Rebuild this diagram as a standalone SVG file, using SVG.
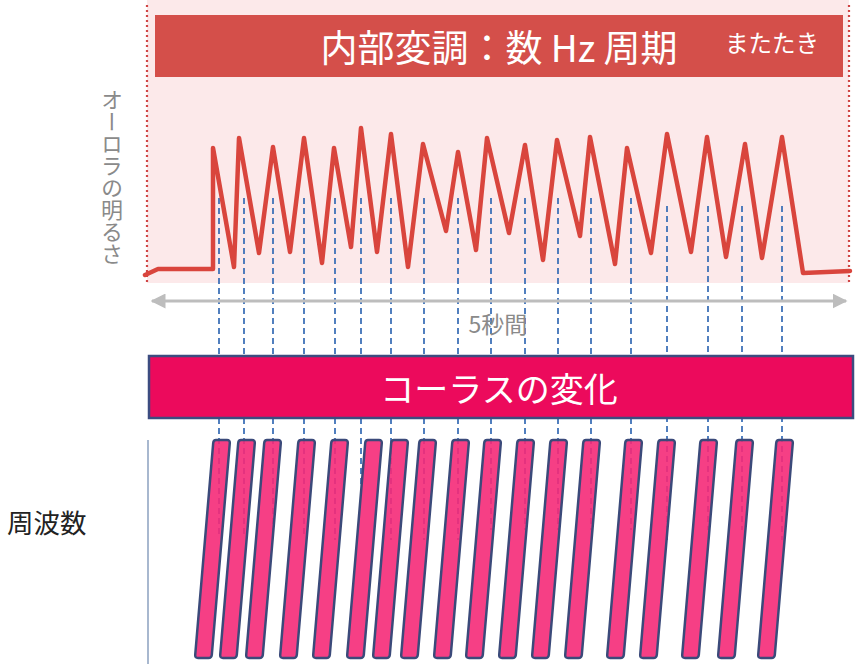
<svg xmlns="http://www.w3.org/2000/svg" xmlns:xlink="http://www.w3.org/1999/xlink" width="859" height="664" viewBox="0 0 859 664">
<style>
  .jp { font-family: "Noto Sans CJK JP", "Noto Sans", sans-serif; }
  .dash { stroke: #3f72b8; stroke-width: 1.8; stroke-dasharray: 6 4; fill: none; }
  .barshape { fill: #f52a78; fill-opacity: 0.9; stroke: #3b4a7a; stroke-width: 2.5; stroke-linejoin: round; }
  .dotted { stroke: #d04545; stroke-width: 2.2; stroke-dasharray: 2 3; fill: none; }
</style>
<defs>
  <path id="bar" d="M3,0 H14 Q17,0 16.8,3 L-1.2,215 Q-1.5,218 -4.5,218 H-15 Q-18,218 -17.8,215 L0.2,3 Q0.5,0 3,0 Z"/>
  <marker id="ah" viewBox="0 0 10 10" refX="9" refY="5" markerWidth="5" markerHeight="5" orient="auto-start-reverse" markerUnits="strokeWidth">
    <path d="M0,0 L10,5 L0,10 Z" fill="#bdbdbd"/>
  </marker>
</defs>
<rect width="859" height="664" fill="#ffffff"/>

<g id="brightness-panel">
  <rect x="147" y="0" width="702" height="283" fill="#fce9ea"/>
  <line class="dotted" x1="147" y1="5" x2="147" y2="283"/>
  <line class="dotted" x1="849" y1="5" x2="849" y2="283"/>
</g>

<g id="banner">
  <rect x="155" y="15" width="688" height="62" fill="#d44f4a"/>
  <text class="jp" x="499" y="62" font-size="37" fill="#ffffff" text-anchor="middle">内部変調：数 Hz 周期</text>
  <text class="jp" x="772" y="52" font-size="23.5" fill="#ffffff" text-anchor="middle">またたき</text>
</g>

<g id="y-label">
  <text class="jp" x="112" y="89" font-size="22" fill="#8a8a8a" style="writing-mode: vertical-rl;">オーロラの明るさ</text>
</g>

<g id="connectors">
  <g id="dashed-lines">
    <line class="dash" x1="219" y1="198" x2="219" y2="535"/>
    <line class="dash" x1="244" y1="198" x2="244" y2="535"/>
    <line class="dash" x1="273" y1="198" x2="273" y2="535"/>
    <line class="dash" x1="304" y1="198" x2="304" y2="535"/>
    <line class="dash" x1="335" y1="198" x2="335" y2="540"/>
    <line class="dash" x1="361" y1="198" x2="361" y2="487"/>
    <line class="dash" x1="391" y1="198" x2="391" y2="540"/>
    <line class="dash" x1="424" y1="198" x2="424" y2="540"/>
    <line class="dash" x1="458" y1="198" x2="458" y2="540"/>
    <line class="dash" x1="491" y1="198" x2="491" y2="530"/>
    <line class="dash" x1="525" y1="198" x2="525" y2="530"/>
    <line class="dash" x1="558" y1="198" x2="558" y2="530"/>
    <line class="dash" x1="591" y1="198" x2="591" y2="530"/>
    <line class="dash" x1="631" y1="198" x2="631" y2="530"/>
    <line class="dash" x1="667" y1="206" x2="667" y2="540"/>
    <line class="dash" x1="708" y1="206" x2="708" y2="530"/>
    <line class="dash" x1="742" y1="206" x2="742" y2="530"/>
    <line class="dash" x1="782" y1="206" x2="782" y2="540"/>
  </g>
  <g id="duration-arrow">
    <line x1="152" y1="301" x2="846" y2="301" stroke="#bdbdbd" stroke-width="3" marker-start="url(#ah)" marker-end="url(#ah)"/>
  </g>
  <line id="freq-axis" x1="148" y1="440" x2="148" y2="664" stroke="#a8b8cf" stroke-width="2"/>
</g>

<g id="waveform">
  <polyline fill="none" stroke="#d9453d" stroke-width="4.5" stroke-linejoin="round" stroke-linecap="round" points="145,275 158,269 213,269 213,148 234,267 239,138 259,253 273,147 290,252 304,138 322,263 334,148 351,247 361,128 377,252 391,134 408,267 423,144 446,231 458,152 476,250 487,138 509,233 525,145 543,260 557,140 580,236 590,137 615,264 627,148 651,253 667,134 691,252 707,137 726,257 745,144 762,258 782,137 803,273 850,271"/>
</g>

<g id="duration-label">
  <text class="jp" x="498" y="333" font-size="23" fill="#8a8a8a" text-anchor="middle">5秒間</text>
</g>

<g id="chorus-bar">
  <rect x="149" y="356" width="704" height="62" fill="#ec0a5c" stroke="#3c4c80" stroke-width="2.5"/>
  <text class="jp" x="499" y="402" font-size="34" fill="#ffffff" text-anchor="middle">コーラスの変化</text>
</g>

<g id="freq-label">
  <text class="jp" x="7" y="533" font-size="26.5" fill="#222222">周波数</text>
</g>

<g id="chorus-elements">
  <g id="bar1"><use href="#bar" class="barshape" x="213" y="440"/></g>
  <g id="bar2"><use href="#bar" class="barshape" x="238" y="440"/></g>
  <g id="bar3"><use href="#bar" class="barshape" x="264" y="440"/></g>
  <g id="bar4"><use href="#bar" class="barshape" x="298" y="440"/></g>
  <g id="bar5"><use href="#bar" class="barshape" x="331" y="440"/></g>
  <g id="bar6"><use href="#bar" class="barshape" x="365" y="440"/></g>
  <g id="bar7"><use href="#bar" class="barshape" x="391" y="440"/></g>
  <g id="bar8"><use href="#bar" class="barshape" x="419" y="440"/></g>
  <g id="bar9"><use href="#bar" class="barshape" x="452" y="440"/></g>
  <g id="bar10"><use href="#bar" class="barshape" x="484" y="440"/></g>
  <g id="bar11"><use href="#bar" class="barshape" x="517" y="440"/></g>
  <g id="bar12"><use href="#bar" class="barshape" x="550" y="440"/></g>
  <g id="bar13"><use href="#bar" class="barshape" x="583" y="440"/></g>
  <g id="bar14"><use href="#bar" class="barshape" x="625" y="440"/></g>
  <g id="bar15"><use href="#bar" class="barshape" x="658" y="440"/></g>
  <g id="bar16"><use href="#bar" class="barshape" x="700" y="440"/></g>
  <g id="bar17"><use href="#bar" class="barshape" x="736" y="440"/></g>
  <g id="bar18"><use href="#bar" class="barshape" x="776" y="440"/></g>
</g>
</svg>
